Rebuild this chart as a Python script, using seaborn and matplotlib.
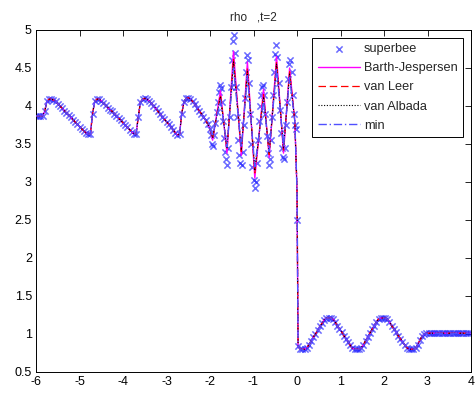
import numpy as np
import pandas as pd
import matplotlib
matplotlib.use("Agg")
import matplotlib.pyplot as plt
import seaborn as sns

# ---------------- data ----------------
# superbee, smooth left part (cells every 0.05 from -6.00 to -2.05)
rho_left = [
    3.87, 3.87, 3.87, 3.87, 3.93, 4.06, 4.09, 4.09, 4.08, 4.06,
    4.03, 4.00, 3.97, 3.94, 3.91, 3.88, 3.85, 3.82, 3.79, 3.76,
    3.73, 3.70, 3.67, 3.645, 3.63, 3.63, 3.90, 4.06, 4.09, 4.09,
    4.07, 4.04, 4.01, 3.98, 3.95, 3.93, 3.90, 3.87, 3.84, 3.81,
    3.78, 3.75, 3.72, 3.69, 3.66, 3.63, 3.63, 3.85, 4.05, 4.09,
    4.10, 4.09, 4.07, 4.04, 4.00, 3.97, 3.93, 3.90, 3.86, 3.83,
    3.79, 3.76, 3.72, 3.69, 3.65, 3.62, 3.63, 3.90, 4.05, 4.10,
    4.11, 4.09, 4.06, 4.02, 3.98, 3.94, 3.90, 3.86, 3.81, 3.76,
]
# superbee, oscillatory part (cells every 0.025 from -2.000 to 0.000)
rho_osc_superbee = [
    3.70, 3.62, 3.50, 3.47, 3.62, 3.78, 3.92, 4.05, 4.18, 4.27,
    4.24, 4.05, 3.80, 3.58, 3.40, 3.30, 3.22, 3.45, 3.85, 4.25,
    4.60, 4.85, 4.93, 4.70, 4.25, 3.85, 3.55, 3.35, 3.25, 3.22,
    3.40, 3.75, 4.10, 4.45, 4.67, 4.60, 4.30, 3.90, 3.50, 3.20,
    3.02, 2.92, 3.00, 3.25, 3.55, 3.80, 4.00, 4.15, 4.25, 4.28,
    4.15, 3.90, 3.60, 3.38, 3.22, 3.30, 3.55, 3.85, 4.15, 4.45,
    4.68, 4.80, 4.65, 4.30, 3.95, 3.65, 3.45, 3.33, 3.30, 3.45,
    3.75, 4.05, 4.35, 4.55, 4.60, 4.45, 4.15, 3.90, 3.75, 3.70,
    2.50,
]
# smooth right part (cells every 0.05 from 0.025 to 3.975)
rho_right = [
    0.84, 0.80, 0.80, 0.80, 0.82, 0.86, 0.91, 0.96, 1.00, 1.05,
    1.10, 1.14, 1.19, 1.21, 1.21, 1.21, 1.20, 1.16, 1.11, 1.07,
    1.03, 0.98, 0.94, 0.90, 0.85, 0.81, 0.80, 0.80, 0.80, 0.82,
    0.86, 0.91, 0.96, 1.01, 1.06, 1.11, 1.16, 1.20, 1.21, 1.21,
    1.21, 1.20, 1.16, 1.11, 1.07, 1.03, 0.98, 0.94, 0.90, 0.86,
    0.82, 0.80, 0.80, 0.80, 0.81, 0.86, 0.92, 0.97, 1.00, 1.01,
    1.01, 1.01, 1.01, 1.01, 1.01, 1.01, 1.01, 1.01, 1.01, 1.01,
    1.01, 1.01, 1.01, 1.01, 1.01, 1.01, 1.01, 1.01, 1.01, 1.01,
]
# other limiters in the oscillatory zone (extrema)
x_osc_lines = [-2.0, -1.94, -1.76, -1.61, -1.46, -1.28, -1.14, -0.97,
               -0.77, -0.64, -0.47, -0.31, -0.17, -0.05, 0.0]
rho_osc_barth = [3.70, 3.55, 4.20, 3.38, 4.72, 3.35, 4.58, 3.05,
                 4.22, 3.32, 4.65, 3.38, 4.50, 3.80, 2.90]
rho_osc_vanleer = [3.70, 3.57, 4.15, 3.42, 4.62, 3.40, 4.50, 3.12,
                   4.15, 3.36, 4.58, 3.42, 4.45, 3.80, 2.90]
rho_osc_vanalbada = [3.70, 3.58, 4.12, 3.44, 4.58, 3.42, 4.45, 3.15,
                     4.12, 3.38, 4.55, 3.44, 4.42, 3.80, 2.90]
rho_osc_min = [3.70, 3.60, 4.08, 3.46, 4.50, 3.45, 4.40, 3.20,
               4.08, 3.40, 4.50, 3.46, 4.38, 3.80, 2.90]

x_ticks = [-6, -5, -4, -3, -2, -1, 0, 1, 2, 3, 4]
y_ticks = [0.5, 1, 1.5, 2, 2.5, 3, 3.5, 4, 4.5, 5]
title = "rho   ,t=2"

# ---------------- grids ----------------
x_left = -6.0 + 0.05 * np.arange(len(rho_left))
x_osc = -2.0 + 0.025 * np.arange(len(rho_osc_superbee))
x_right = 0.025 + 0.05 * np.arange(len(rho_right))

x_sb = np.concatenate([x_left, x_osc, x_right])
y_sb = np.concatenate([rho_left, rho_osc_superbee, rho_right])
x_ln = np.concatenate([x_left, x_osc_lines, x_right])

# ---------------- plot ----------------
sns.set_style("white")
plt.rcParams["font.family"] = ["Liberation Sans", "DejaVu Sans"]

fig = plt.figure(figsize=(4.77, 3.99), dpi=100)
ax = fig.add_axes([36 / 477, 1 - 372 / 399, 435 / 477, 342 / 399])

sns.scatterplot(x=x_sb, y=y_sb, ax=ax, marker="x", color=(0.1, 0.1, 1.0),
                alpha=0.65, s=20, linewidth=1.1, label="superbee", zorder=2)

series = [
    ("Barth-Jespersen", rho_osc_barth, "#ff00ff", "-", 1.0),
    ("van Leer", rho_osc_vanleer, "#ff0000", (0, (6, 3)), 0.9),
    ("van Albada", rho_osc_vanalbada, "#000000", (0, (1, 1.5)), 0.8),
    ("min", rho_osc_min, "#5050ff", (0, (6, 2, 1, 2)), 1.0),
]
for name, osc, col, ls, lw in series:
    y_ln = np.concatenate([rho_left, osc, rho_right])
    sns.lineplot(x=x_ln, y=y_ln, ax=ax, color=col, linestyle=ls, linewidth=lw,
                 label=name, estimator=None, sort=False, zorder=3)

ax.set_xlim(-6, 4)
ax.set_ylim(0.5, 5)
ax.set_xticks(x_ticks)
ax.set_xticklabels([str(t) for t in x_ticks])
ax.set_yticks(y_ticks)
ax.set_yticklabels([("%g" % t) for t in y_ticks])
ax.tick_params(direction="in", top=True, right=True, length=4, width=0.6,
               labelsize=9, colors="black", pad=3)
for sp in ax.spines.values():
    sp.set_visible(True)
    sp.set_color("black")
    sp.set_linewidth(0.7)
ax.set_xlabel("")
ax.set_ylabel("")
ax.set_title(title, fontsize=8.5, pad=7)

leg = ax.legend(loc="upper right", fontsize=9.2, frameon=True, fancybox=False,
                edgecolor="black", framealpha=1.0, borderaxespad=0.6,
                handlelength=3.3, handletextpad=0.3, labelspacing=0.55,
                borderpad=0.45)
leg.get_frame().set_linewidth(0.7)

fig.savefig("out.png", dpi=100)
